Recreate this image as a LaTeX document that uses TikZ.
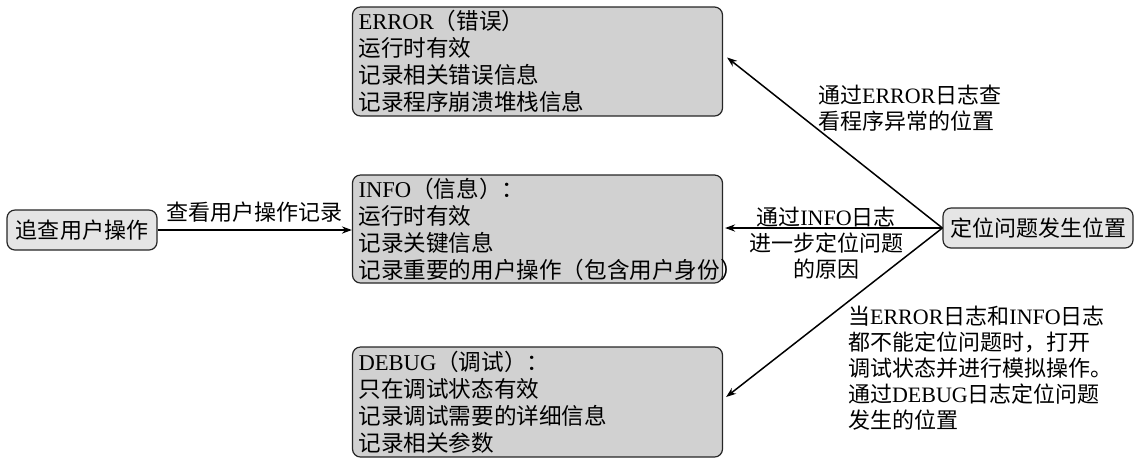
\documentclass[tikz,border=0pt]{standalone}
\usepackage{fontspec}
\setmainfont{Noto Sans CJK SC}
\newfontfamily\lat{Liberation Serif}
\usetikzlibrary{arrows.meta}

\begin{document}
\begin{tikzpicture}[x=0.5pt,y=-0.5pt,>={Stealth[length=5pt,width=3.6pt]},
	logbox/.style={draw=black!85,line width=0.6pt,rounded corners=4pt,fill=black!18,text width=179pt,inner xsep=3pt,inner ysep=0pt,align=left,font=\fontsize{11.3pt}{13.5pt}\selectfont},
	endbox/.style={draw=black!85,line width=0.6pt,rounded corners=4pt,fill=black!10,minimum height=20pt,inner xsep=3pt,font=\fontsize{11pt}{13pt}\selectfont},
	note/.style={align=left,font=\fontsize{11pt}{13pt}\selectfont}]
			\useasboundingbox (0,0) rectangle (1139,463);

			\node [logbox,minimum height=54.5pt] (err) at (537.5,61.5) {{\lat ERROR}（错误）\\运行时有效\\记录相关错误信息\\记录程序崩溃堆栈信息};
			\node [logbox,minimum height=54pt] (info) at (537.5,229) {{\lat INFO}（信息）：\\运行时有效\\记录关键信息\\记录重要的用户操作（包含用户身份）};
			\node [logbox,minimum height=55pt] (dbg) at (537.5,402) {{\lat DEBUG}（调试）：\\只在调试状态有效\\记录调试需要的详细信息\\记录相关参数};

			\node [endbox,minimum width=75pt] (user) at (82,230) {追查用户操作};
			\node [endbox,minimum width=95pt] (loc) at (1038,228) {定位问题发生位置};

			\draw [->,line width=0.75pt] (user.east) -- (user.east -| info.west) node [midway,above,font=\fontsize{11pt}{13pt}\selectfont] {查看用户操作记录};

			\draw [->,line width=0.75pt] (loc.west) -- ([shift={(4,-4)}]err.east);
			\draw [->,line width=0.75pt] (loc.west) -- ([xshift=1pt]loc.west -| info.east);
			\draw [->,line width=0.75pt] (loc.west) -- ([shift={(3,-5)}]dbg.east);

			\node [note,anchor=west] (errnote) at (811,108) {通过{\lat ERROR}日志查\\看程序异常的位置};
			\node [note,align=center] (infonote) at (826,243) {通过{\lat INFO}日志\\进一步定位问题\\的原因};
			\node [note,anchor=west] (dbgnote) at (841,368) {当{\lat ERROR}日志和{\lat INFO}日志\\都不能定位问题时，打开\\调试状态并进行模拟操作。\\通过{\lat DEBUG}日志定位问题\\发生的位置};
		\end{tikzpicture}
\end{document}
